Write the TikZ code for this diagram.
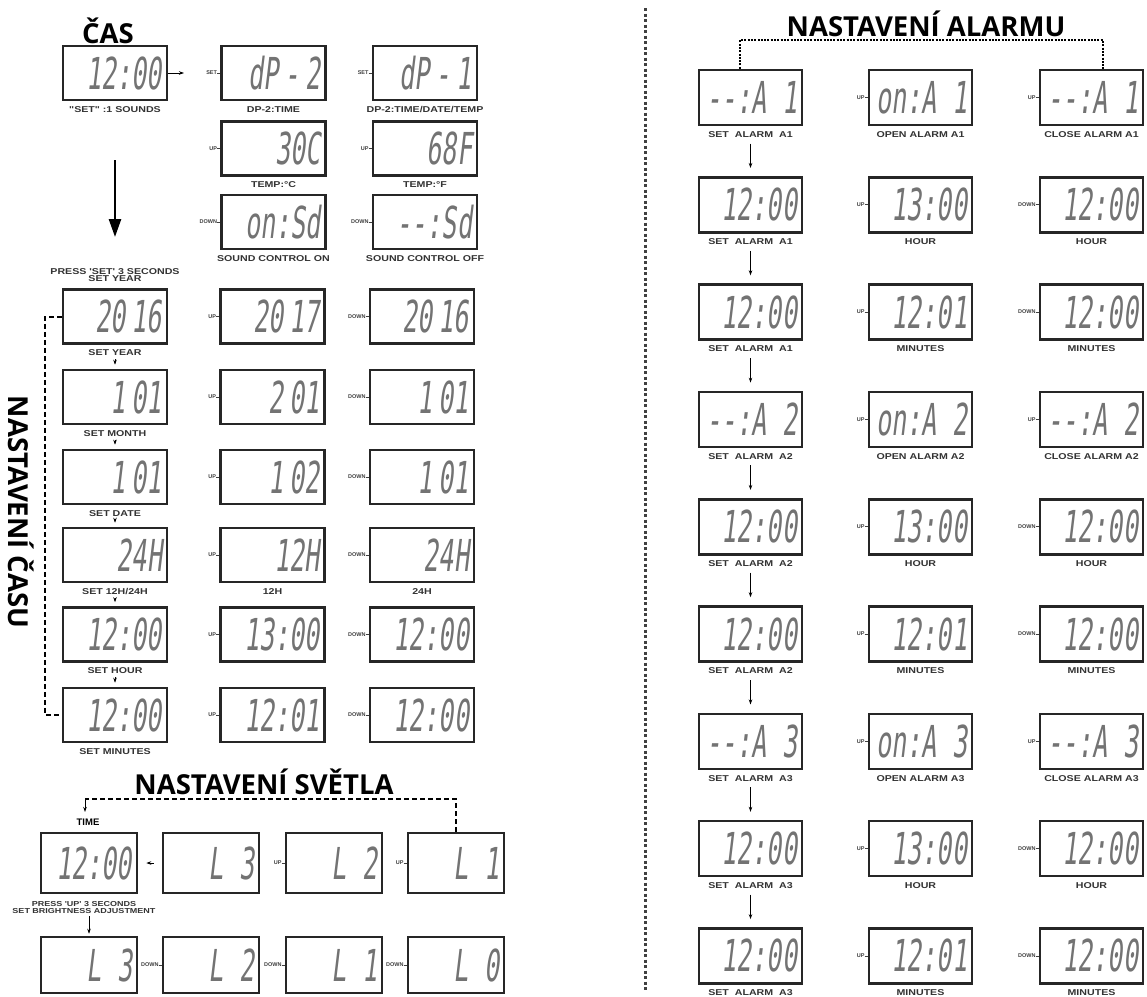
\documentclass[tikz,border=0pt]{standalone}
\usepackage{fontspec}
\setmainfont{Liberation Sans}
\newfontfamily\lcdfont[FakeSlant=0.12,FakeStretch=0.57]{DejaVu Sans Mono}
\newfontfamily\titlefont{Open Sans}
\newfontfamily\lblfont[FakeStretch=1.25]{Liberation Sans}
\usetikzlibrary{arrows.meta}
\newcommand\gp{\hspace{6pt}}
\tikzset{
 lcd/.style={draw=black!85, line width=2.6pt, fill=white, inner sep=0pt, minimum width=104pt, minimum height=54pt},
 lcdR/.style={minimum width=103pt, minimum height=55pt},
 lcdS/.style={minimum width=96pt, minimum height=60pt},
 lcdT/.style={minimum width=96pt, minimum height=56pt},
 lcdtxt/.style={anchor=east, inner sep=0pt, text=black!55, font=\lcdfont\fontsize{44}{44}\selectfont},
 lbl/.style={inner sep=0pt, text=black!80, font=\lblfont\bfseries\fontsize{8.5}{9}\selectfont, align=center},
 pre/.style={inner sep=0pt, text=black!75, font=\bfseries\fontsize{5.5}{6}\selectfont},
 preline/.style={line width=0.8pt, black!75},
 ttl/.style={inner sep=0pt, font=\titlefont\bfseries\fontsize{27.5}{29}\selectfont},
 dashline/.style={line width=2pt, dash pattern=on 5pt off 3pt},
 dotline/.style={line width=2.2pt, dash pattern=on 2pt off 1.3pt},
 sepline/.style={line width=3pt, black!75, dash pattern=on 3pt off 2.5pt},
 sarrow/.style={line width=0.8pt, -{Stealth[length=5pt,width=3.5pt]}},
}
\newcommand\mkLcd[4][]{\node[lcd,#1] (#2) at (#3) {};
 \node[lcdtxt] (#2t) at ([xshift=-6pt]#2.east) {#4};}
\newcommand\mkPre[3]{\node[pre, anchor=east] (#2) at ([xshift=-3pt]#1.west) {#3};
 \draw[preline] (#2.east) -- (#1.west);}
\newcommand\mkLbl[3]{\node[lbl] (#1) at ([yshift=-8pt]#2.south) {#3};}
% left grid row: idx, y, t1, t2, t3, l1, l2, l3
\newcommand\gridrow[8]{%
 \mkLcd{g#1a}{115,#2}{#3}
 \mkLcd{g#1b}{272.5,#2}{#4}
 \mkLcd{g#1c}{422,#2}{#5}
 \mkLbl{g#1al}{g#1a}{#6}
 \mkLbl{g#1bl}{g#1b}{#7}
 \mkLbl{g#1cl}{g#1c}{#8}
 \mkPre{g#1b}{g#1bp}{UP}
 \mkPre{g#1c}{g#1cp}{DOWN}}
% alarm row: idx, y, t1, t2, t3, l1, l2, l3, prefix3
\newcommand\alarmrow[9]{%
 \mkLcd[lcdR]{r#1a}{750.5,#2}{#3}
 \mkLcd[lcdR]{r#1b}{920.5,#2}{#4}
 \mkLcd[lcdR]{r#1c}{1091.5,#2}{#5}
 \mkLbl{r#1al}{r#1a}{#6}
 \mkLbl{r#1bl}{r#1b}{#7}
 \mkLbl{r#1cl}{r#1c}{#8}
 \mkPre{r#1b}{r#1bp}{UP}
 \mkPre{r#1c}{r#1cp}{#9}}
\begin{document}
\begin{tikzpicture}[x=1pt,y=-1pt]
\fill[white] (0,0) rectangle (1147,996);
\useasboundingbox (0,0) rectangle (1147,996);

% ---------- CAS ----------
\node[ttl] (tcas) at (108,31) {ČAS};
\mkLcd{clk}{115,73}{12:00}
\mkLcd{dpb}{273.5,73}{dP\gp-\gp2}
\mkLcd{dpa}{425,73}{dP\gp-\gp1}
\mkLcd{tc}{273.5,148.5}{30C}
\mkLcd{tf}{425,148.5}{68F}
\mkLcd{sdon}{273.5,222}{on:Sd}
\mkLcd{sdoff}{425,222}{--:Sd}
\mkLbl{clkl}{clk}{"SET" :1 SOUNDS}
\mkLbl{dpbl}{dpb}{DP-2:TIME}
\mkLbl{dpal}{dpa}{DP-2:TIME/DATE/TEMP}
\mkLbl{tcl}{tc}{TEMP:°C}
\mkLbl{tfl}{tf}{TEMP:°F}
\mkLbl{sdonl}{sdon}{SOUND CONTROL ON}
\mkLbl{sdoffl}{sdoff}{SOUND CONTROL OFF}
\mkPre{dpb}{dpbp}{SET}
\mkPre{dpa}{dpap}{SET}
\mkPre{tc}{tcp}{UP}
\mkPre{tf}{tfp}{UP}
\mkPre{sdon}{sdonp}{DOWN}
\mkPre{sdoff}{sdoffp}{DOWN}
\coordinate (clkarr) at (184,73);
\draw[sarrow] (clk.east) -- (clkarr);
\coordinate (bigA) at (115,160);
\coordinate (bigB) at (115,237);
\draw[line width=2.6pt, -{Triangle[length=18pt,width=12pt]}] (bigA) -- (bigB);

% ---------- NASTAVENI CASU ----------
\node[ttl, rotate=-90] (tnc) at (21,512) {NASTAVENÍ ČASU};
\node[lbl] (press) at (115,275) {PRESS 'SET' 3 SECONDS\\[-1.5pt]SET YEAR};
\gridrow{1}{316.5}{20\gp16}{20\gp17}{20\gp16}{SET YEAR}{}{}
\gridrow{2}{397}{1\gp01}{2\gp01}{1\gp01}{SET MONTH}{}{}
\gridrow{3}{477}{1\gp01}{1\gp02}{1\gp01}{SET DATE}{}{}
\gridrow{4}{555}{24H}{12H}{24H}{SET 12H/24H}{12H}{24H}
\gridrow{5}{634.5}{12:00}{13:00}{12:00}{SET HOUR}{}{}
\gridrow{6}{715}{12:00}{12:01}{12:00}{SET MINUTES}{}{}
\foreach \i/\j in {1/2,2/3,3/4,4/5,5/6}{
 \draw[sarrow, line width=0.6pt, shorten <=3pt, shorten >=4pt] (g\i al.south) -- (g\j a.north);}
\coordinate (ldc) at (45,0);
\draw[dashline] (g1a.west) -- (g1a.west -| ldc) -- (g6a.west -| ldc) -- (g6a.west);

% ---------- NASTAVENI SVETLA ----------
\node[ttl] (tsv) at (264,782) {NASTAVENÍ SVĚTLA};
\mkLcd[lcdS]{lclk}{89,863}{12:00}
\mkLcd[lcdS]{la3}{211,863}{L 3}
\mkLcd[lcdS]{la2}{334,863}{L 2}
\mkLcd[lcdS]{la1}{456,863}{L 1}
\mkLcd[lcdT]{lb3}{89,965}{L 3}
\mkLcd[lcdT]{lb2}{211,965}{L 2}
\mkLcd[lcdT]{lb1}{334,965}{L 1}
\mkLcd[lcdT]{lb0}{456,965}{L 0}
\mkPre{la2}{la2p}{UP}
\mkPre{la1}{la1p}{UP}
\mkPre{lb2}{lb2p}{DOWN}
\mkPre{lb1}{lb1p}{DOWN}
\mkPre{lb0}{lb0p}{DOWN}
\draw[sarrow, shorten <=8pt, shorten >=8pt] (la3.west) -- (lclk.east);
\node[lbl, text=black, font=\bfseries\fontsize{9.5}{10}\selectfont] (time) at (88,822) {TIME};
\coordinate (lc1) at (85,799);
\coordinate (lc2) at (85,812);
\draw[dashline] (la1.north) |- (lc1);
\draw[sarrow, line width=1pt] (lc1) -- (lc2);
\node[lbl, font=\lblfont\bfseries\fontsize{7.2}{8}\selectfont] (bright) at (84,908) {PRESS 'UP' 3 SECONDS\\[-1pt]SET BRIGHTNESS ADJUSTMENT};
\draw[sarrow, line width=0.6pt, shorten <=2pt, shorten >=2pt] (bright.south -| lb3.north) -- (lb3.north);

% ---------- separator ----------
\coordinate (sep1) at (645,8);
\coordinate (sep2) at (645,992);
\draw[sepline] (sep1) -- (sep2);

% ---------- NASTAVENI ALARMU ----------
\node[ttl] (tal) at (926,24) {NASTAVENÍ ALARMU};
\alarmrow{1}{97.5}{--:A 1}{on:A 1}{--:A 1}{SET\ \ ALARM\ \ A1}{OPEN ALARM A1}{CLOSE ALARM A1}{UP}
\alarmrow{2}{204.8}{12:00}{13:00}{12:00}{SET\ \ ALARM\ \ A1}{HOUR}{HOUR}{DOWN}
\alarmrow{3}{312.1}{12:00}{12:01}{12:00}{SET\ \ ALARM\ \ A1}{MINUTES}{MINUTES}{DOWN}
\alarmrow{4}{419.4}{--:A 2}{on:A 2}{--:A 2}{SET\ \ ALARM\ \ A2}{OPEN ALARM A2}{CLOSE ALARM A2}{UP}
\alarmrow{5}{526.7}{12:00}{13:00}{12:00}{SET\ \ ALARM\ \ A2}{HOUR}{HOUR}{DOWN}
\alarmrow{6}{634}{12:00}{12:01}{12:00}{SET\ \ ALARM\ \ A2}{MINUTES}{MINUTES}{DOWN}
\alarmrow{7}{741.3}{--:A 3}{on:A 3}{--:A 3}{SET\ \ ALARM\ \ A3}{OPEN ALARM A3}{CLOSE ALARM A3}{UP}
\alarmrow{8}{848.6}{12:00}{13:00}{12:00}{SET\ \ ALARM\ \ A3}{HOUR}{HOUR}{DOWN}
\alarmrow{9}{955.9}{12:00}{12:01}{12:00}{SET\ \ ALARM\ \ A3}{MINUTES}{MINUTES}{DOWN}
\foreach \i/\j in {1/2,2/3,3/4,4/5,5/6,6/7,7/8,8/9}{
 \draw[sarrow, shorten <=6pt, shorten >=8pt] (r\i al.south) -- (r\j a.north);}
\coordinate (ac1) at (740,40);
\coordinate (ac2) at (1103,40);
\draw[dotline] (r1a.north -| ac1) -- (ac1) -- (ac2) -- (r1c.north -| ac2);
\end{tikzpicture}
\end{document}
